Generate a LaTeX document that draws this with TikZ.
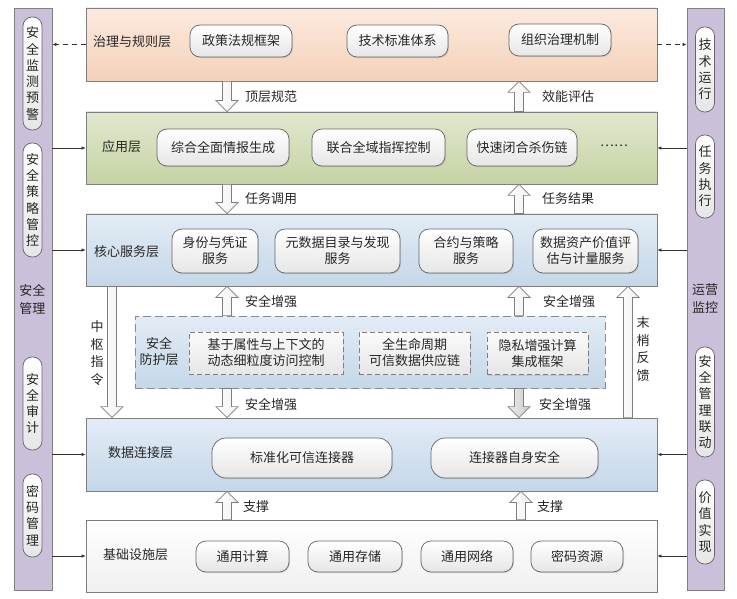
\documentclass[tikz,border=0pt]{standalone}
\usepackage{fontspec}
\setmainfont{Noto Sans CJK SC}
\usepackage{tikz}
\usetikzlibrary{positioning,shadows,arrows.meta,calc}

\definecolor{linegray}{HTML}{7F7F7F}
\definecolor{txtgray}{HTML}{262626}
\definecolor{govtop}{HTML}{FCEADF}
\definecolor{govbot}{HTML}{F4D1B9}
\definecolor{apptop}{HTML}{E0E8CF}
\definecolor{appbot}{HTML}{C6D3A3}
\definecolor{bluetop}{HTML}{E3ECF5}
\definecolor{bluebot}{HTML}{C4D7E9}
\definecolor{panelfill}{HTML}{CAC0D9}
\definecolor{itembot}{HTML}{E6E6E6}

\newcommand{\txtsize}{\fontsize{13}{16}\selectfont}
\newcommand{\blockarr}[3][barr]{%
  \draw[#1] let \p1=#2, \p2=#3, \n1={sign(\y2-\y1)*11} in
    (\x1-4.5pt,\y1) -- (\x1-4.5pt,\y2-\n1*1pt) -- (\x1-11pt,\y2-\n1*1pt) -- (\x1,\y2)
    -- (\x1+11pt,\y2-\n1*1pt) -- (\x1+4.5pt,\y2-\n1*1pt) -- (\x1+4.5pt,\y1) -- cycle;}

\tikzset{
  layer/.style={draw=linegray, line width=0.8pt, minimum width=571pt, minimum height=72pt, inner sep=0pt},
  panel/.style={draw=linegray, line width=0.8pt, fill=panelfill, minimum width=38pt, minimum height=582pt},
  item/.style={draw=linegray!80!black, line width=0.7pt, rounded corners=10pt, top color=white, bottom color=itembot,
    inner sep=2pt, align=center, font=\txtsize, text=txtgray,
    drop shadow={opacity=0.25, shadow xshift=1pt, shadow yshift=-1.2pt}},
  dashitem/.style={draw=linegray, line width=0.8pt, dash pattern=on 5pt off 3pt, top color=white!96!gray, bottom color=itembot,
    inner sep=2pt, align=center, font=\txtsize, text=txtgray,
    drop shadow={opacity=0.2, shadow xshift=1pt, shadow yshift=-1.2pt}},
  sitem/.style={draw=linegray!80!black, line width=0.7pt, rounded corners=9pt, top color=white, bottom color=itembot,
    minimum width=19pt, inner sep=0pt, align=center, font=\fontsize{13}{16.3}\selectfont, text=txtgray},
  lbl/.style={font=\txtsize, text=txtgray, inner sep=0pt, align=center},
  barr/.style={draw=linegray, line width=0.7pt, left color=white, right color=gray!12},
  barrdark/.style={draw=linegray, line width=0.7pt, left color=gray!15, right color=gray!40},
  link/.style={draw=black!80, line width=0.6pt, -{Latex[length=4pt,width=3.5pt]}},
  dlink/.style={link, dash pattern=on 5pt off 4pt}
}

\begin{document}
\begin{tikzpicture}[x=1pt, y=-1pt]
  \useasboundingbox (0,0) rectangle (737,599);

  % side panels
  \node[panel] (lp) at (33,299) {};
  \node[panel, minimum width=37pt] (rp) at (705.5,299.5) {};

  % layers
  \node[layer, top color=govtop, bottom color=govbot, minimum height=73pt] (gov) at (371.5,44.5) {};
  \node[layer, top color=apptop, bottom color=appbot] (app) at (371.5,148) {};
  \node[layer, top color=bluetop, bottom color=bluebot] (core) at (371.5,250) {};
  \node[layer, top color=bluetop, bottom color=bluebot, draw=linegray!90, dash pattern=on 8pt off 4pt,
        minimum width=470pt] (sec) at (370,352) {};
  \node[layer, top color=bluetop, bottom color=bluebot, minimum height=73pt] (data) at (371.5,454.5) {};
  \node[layer, top color=white, bottom color=gray!12] (infra) at (371.5,556) {};

  % layer titles
  \node[lbl, anchor=west] (govt) at (93,42) {治理与规则层};
  \node[lbl, anchor=west] (appt) at (102,147) {应用层};
  \node[lbl, anchor=west] (coret) at (94,252) {核心服务层};
  \node[lbl] (sect) at (159,352) {安全\\防护层};
  \node[lbl, anchor=west] (datat) at (108,453) {数据连接层};
  \node[lbl, anchor=west] (infrat) at (103,555) {基础设施层};

  % governance
  \node[item, minimum width=102pt, minimum height=32pt] (policy) at (241,41) {政策法规框架};
  \node[item, minimum width=101pt, minimum height=32pt] (std) at (397.5,41) {技术标准体系};
  \node[item, minimum width=102pt, minimum height=32pt] (org) at (560,40) {组织治理机制};

  % application
  \node[item, minimum width=132pt, minimum height=37pt] (intel) at (223,147.5) {综合全面情报生成};
  \node[item, minimum width=133pt, minimum height=37pt] (cmd) at (378.5,147.5) {联合全域指挥控制};
  \node[item, minimum width=110pt, minimum height=37pt] (kill) at (522,147.5) {快速闭合杀伤链};
  \node[lbl] (more) at (614,146) {……};

  % core services
  \node[item, minimum width=86pt, minimum height=44pt] (ident) at (215,251) {身份与凭证\\服务};
  \node[item, minimum width=125pt, minimum height=44pt] (meta) at (337.5,251) {元数据目录与发现\\服务};
  \node[item, minimum width=94pt, minimum height=44pt] (contract) at (466,251) {合约与策略\\服务};
  \node[item, minimum width=105pt, minimum height=44pt] (value) at (585.5,251) {数据资产价值评\\估与计量服务};

  % security protection
  \node[dashitem, minimum width=154pt, minimum height=42pt] (abac) at (266,353) {基于属性与上下文的\\动态细粒度访问控制};
  \node[dashitem, minimum width=111pt, minimum height=42pt] (chain) at (414.5,353) {全生命周期\\可信数据供应链};
  \node[dashitem, minimum width=101pt, minimum height=42pt] (pec) at (537.5,353.5) {隐私增强计算\\集成框架};

  % data connection
  \node[item, minimum width=180pt, minimum height=40pt, rounded corners=14pt] (conn) at (302,458) {标准化可信连接器};
  \node[item, minimum width=167pt, minimum height=40pt, rounded corners=14pt] (connsec) at (514.5,458) {连接器自身安全};

  % infrastructure
  \node[item, minimum width=93pt, minimum height=31pt] (comp) at (242.5,556.5) {通用计算};
  \node[item, minimum width=94pt, minimum height=31pt] (store) at (355,556.5) {通用存储};
  \node[item, minimum width=92pt, minimum height=31pt] (net) at (467,556.5) {通用网络};
  \node[item, minimum width=92pt, minimum height=31pt] (crypto) at (577,556.5) {密码资源};

  % left panel
  \node[sitem, minimum height=113pt] (monitor) at (32.5,73.5) {安\\全\\监\\测\\预\\警};
  \node[sitem, minimum height=114pt] (strat) at (32.5,200) {安\\全\\策\\略\\管\\控};
  \node[lbl] (secmgmt) at (32.5,299) {安全\\[2pt]管理};
  \node[sitem, minimum height=93pt] (audit) at (32.5,403.5) {安\\全\\审\\计};
  \node[sitem, minimum height=83pt] (keymgmt) at (32.5,515.5) {密\\码\\管\\理};

  % right panel
  \node[sitem, minimum height=85pt] (techop) at (705,69.5) {技\\术\\运\\行};
  \node[sitem, minimum height=83pt] (taskex) at (705,176.5) {任\\务\\执\\行};
  \node[lbl] (opmon) at (705,299) {运营\\[2pt]监控};
  \node[sitem, minimum height=110pt] (seclink) at (705,402) {安\\全\\管\\理\\联\\动};
  \node[sitem, minimum height=84pt] (valreal) at (705,522) {价\\值\\实\\现};

  % panel links
  \draw[dlink] (gov.west) -- (lp.east |- gov.west);
  \draw[dlink] (gov.east) -- (rp.west |- gov.east);
  \foreach \ly in {app,core,data,infra} {
    \draw[link] (lp.east |- \ly.west) -- (\ly.west);
    \draw[link] (rp.west |- \ly.east) -- (\ly.east);
  }

  % block arrows
  \coordinate (xa) at (227,0);
  \coordinate (xb) at (519,0);
  \coordinate (xc) at (112,0);
  \coordinate (xd) at (628,0);
  \coordinate (xe) at (521,0);
  \blockarr{(gov.south -| xa)}{(app.north -| xa)}
  \blockarr{(app.north -| xb)}{(gov.south -| xb)}
  \blockarr{(app.south -| xa)}{(core.north -| xa)}
  \blockarr{(core.north -| xb)}{(app.south -| xb)}
  \blockarr{(sec.north -| xa)}{(core.south -| xa)}
  \blockarr{(sec.north -| xb)}{(core.south -| xb)}
  \blockarr{(sec.south -| xa)}{(data.north -| xa)}
  \blockarr[barrdark]{(sec.south -| xb)}{(data.north -| xb)}
  \blockarr{(infra.north -| xa)}{(data.south -| xa)}
  \blockarr{(infra.north -| xe)}{(data.south -| xe)}
  \blockarr{(core.south -| xc)}{(data.north -| xc)}
  \blockarr{(data.north -| xd)}{(core.south -| xd)}

  % arrow labels
  \node[lbl, anchor=west] (l1) at (245,97) {顶层规范};
  \node[lbl, anchor=west] (l2) at (542,97) {效能评估};
  \node[lbl, anchor=west] (l3) at (245,199) {任务调用};
  \node[lbl, anchor=west] (l4) at (542,199) {任务结果};
  \node[lbl, anchor=west] (l5) at (245,302) {安全增强};
  \node[lbl, anchor=west] (l6) at (543,302) {安全增强};
  \node[lbl, anchor=west] (l7) at (245,405) {安全增强};
  \node[lbl, anchor=west] (l8) at (539,405) {安全增强};
  \node[lbl, anchor=west] (l9) at (243,507) {支撑};
  \node[lbl, anchor=west] (l10) at (537,507) {支撑};
  \node[lbl, font=\fontsize{13}{17.5}\selectfont] (l11) at (97,353) {中\\枢\\指\\令};
  \node[lbl, font=\fontsize{13}{17.5}\selectfont] (l12) at (643,349) {末\\梢\\反\\馈};
\end{tikzpicture}
\end{document}
